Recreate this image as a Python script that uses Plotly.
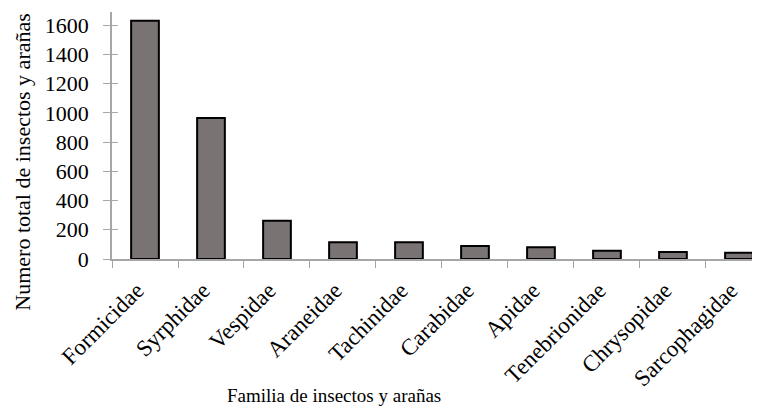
import plotly.graph_objects as go

familias = ["Formicidae", "Syrphidae", "Vespidae", "Araneidae", "Tachinidae",
            "Carabidae", "Apidae", "Tenebrionidae", "Chrysopidae", "Sarcophagidae"]
totales = [1630, 965, 262, 114, 114, 89, 80, 57, 48, 43]
y_ticks = [0, 200, 400, 600, 800, 1000, 1200, 1400, 1600]

FONT = "Liberation Serif, Times New Roman, serif"
AXIS = "#a6a6a6"

fig = go.Figure()
fig.add_trace(go.Bar(
    x=familias, y=totales, width=0.42,
    marker=dict(color="#7a7373", line=dict(color="#000000", width=2)),
    showlegend=False,
))
# invisible helper so the second y axis draws the inner half of the cross ticks
fig.add_trace(go.Scatter(
    x=[familias[0]], y=[0], yaxis="y2", mode="markers",
    marker=dict(opacity=0), hoverinfo="skip", showlegend=False,
))

# page body has an 8px default margin, so margins are trimmed to compensate
fig.update_layout(
    width=760, height=409,
    plot_bgcolor="#ffffff", paper_bgcolor="#ffffff",
    font=dict(family=FONT, size=21, color="#000000"),
    margin=dict(l=104, r=0, t=4, b=158, autoexpand=False),
    xaxis=dict(
        range=[-0.5, 9.44], tickangle=-45, tickson="boundaries",
        ticks="outside", ticklen=7, tickcolor=AXIS,
        showline=True, linecolor=AXIS, linewidth=1.5,
        showgrid=False, tickfont=dict(size=23), automargin=False,
        ticklabelstandoff=7, ticklabelshift=-8,
    ),
    yaxis=dict(
        range=[0, 1690], tickvals=y_ticks,
        ticks="outside", ticklen=7, tickcolor=AXIS,
        showline=True, linecolor=AXIS, linewidth=1.5,
        showgrid=False, zeroline=False, tickfont=dict(size=22),
        ticklabelstandoff=10, automargin=False,
    ),
    yaxis2=dict(
        range=[0, 1690], tickvals=y_ticks, overlaying="y",
        ticks="inside", ticklen=6, tickcolor=AXIS, automargin=False,
        showticklabels=False, showline=False, showgrid=False, zeroline=False,
    ),
    annotations=[
        dict(text="Numero total de insectos y arañas", textangle=-90,
             xref="paper", yref="paper", x=-0.136, y=0.393,
             xanchor="center", yanchor="middle",
             showarrow=False, font=dict(size=22)),
        dict(text="Familia de insectos y arañas",
             xref="paper", yref="paper", x=0.338, y=-0.551,
             xanchor="center", yanchor="middle",
             showarrow=False, font=dict(size=19)),
    ],
)

fig.write_html("out.html")
